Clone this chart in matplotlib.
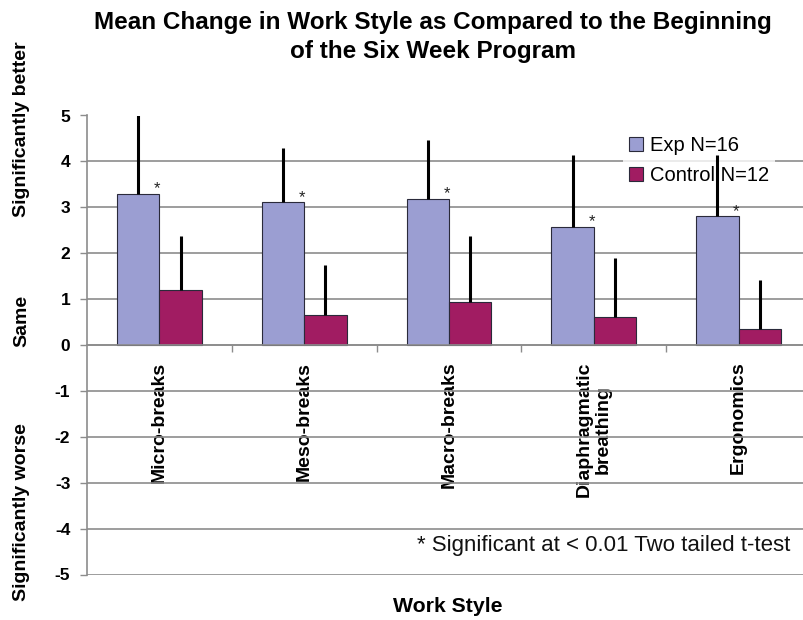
import matplotlib
matplotlib.use("Agg")
import matplotlib.pyplot as plt
from matplotlib.patches import Patch
import numpy as np

plt.rcParams['font.family'] = ['Liberation Sans', 'DejaVu Sans']

# Work-style categories and mean change scores
categories = ["Micro-breaks", "Meso-breaks", "Macro-breaks",
              "Diaphragmatic\nbreathing", "Ergonomics"]
exp_means = [3.30, 3.12, 3.19, 2.58, 2.80]
exp_sd = [1.80, 1.18, 1.28, 1.56, 1.34]
ctrl_means = [1.20, 0.66, 0.94, 0.62, 0.34]
ctrl_sd = [1.18, 1.09, 1.44, 1.28, 1.08]
significant = [True, True, True, True, True]
series_labels = ["Exp N=16", "Control N=12"]
yticks = [-5, -4, -3, -2, -1, 0, 1, 2, 3, 4, 5]

exp_color = "#9B9ED2"
ctrl_color = "#A11C62"
grid_color = "#8C8C8C"
edge_color = "#2a2a3a"

W, H = 804, 620
fig = plt.figure(figsize=(W / 100, H / 100), dpi=100)
ax = fig.add_axes([87 / W, 1 - 574.5 / H, (811 - 87) / W, 459 / H])

x = np.arange(len(categories))
bw = 0.293
ax.bar(x - bw / 2, exp_means, bw, color=exp_color, edgecolor=edge_color,
       linewidth=0.8, zorder=2)
ax.bar(x + bw / 2, ctrl_means, bw, color=ctrl_color, edgecolor=edge_color,
       linewidth=0.8, zorder=2)

# one-sided (upper) error bars
ax.errorbar(x - bw / 2, exp_means, yerr=[np.zeros(len(x)), exp_sd], fmt="none",
            ecolor="black", elinewidth=2.2, capsize=0, zorder=4)
ax.errorbar(x + bw / 2, ctrl_means, yerr=[np.zeros(len(x)), ctrl_sd], fmt="none",
            ecolor="black", elinewidth=2.2, capsize=0, zorder=4)

# significance markers
for xi, m, s in zip(x, exp_means, significant):
    if s:
        ax.text(xi - 0.015, m, "*", ha="center", va="baseline", fontsize=12,
                color="#222222", zorder=5)

ax.set_xlim(-0.5, len(categories) - 0.5)
ax.set_ylim(-5, 5)
ax.set_yticks(yticks)
ax.set_yticklabels([str(t) for t in yticks], fontsize=12.5, fontweight="bold")
ax.yaxis.grid(True, color=grid_color, linewidth=1.2)
ax.set_axisbelow(True)

for side in ("top", "right"):
    ax.spines[side].set_visible(False)
ax.spines["left"].set_color(grid_color)
ax.spines["left"].set_linewidth(1.2)
ax.spines["bottom"].set_position(("data", 0))
ax.spines["bottom"].set_color(grid_color)
ax.spines["bottom"].set_linewidth(1.2)

ax.tick_params(axis="y", length=5, width=1.0, color=grid_color, pad=7)
ax.set_xticks(np.arange(len(categories) - 1) + 0.5)
ax.set_xticklabels([])
ax.tick_params(axis="x", which="major", direction="out", length=5, width=1.0,
               color=grid_color)
ax.set_xticks(x, minor=True)
ax.set_xticklabels(categories, minor=True, rotation=90, fontsize=14,
                   fontweight="bold", va="top", ha="center",
                   multialignment="center")
ax.tick_params(axis="x", which="minor", length=0, pad=12)

leg = ax.legend(handles=[Patch(facecolor=exp_color, edgecolor=edge_color, linewidth=0.8),
                         Patch(facecolor=ctrl_color, edgecolor=edge_color, linewidth=0.8)],
                labels=series_labels, loc="upper left",
                bbox_to_anchor=(623 / W, 1 - 130 / H), bbox_transform=fig.transFigure,
                fontsize=14.5, frameon=True, fancybox=False, borderaxespad=0,
                borderpad=0.3, handlelength=0.7, handleheight=0.7,
                handletextpad=0.35, labelspacing=0.55)
leg.get_frame().set_facecolor("white")
leg.get_frame().set_edgecolor("none")
leg.set_zorder(3)

# footnote
ax.text(790 / W, 1 - 545 / H, "* Significant at < 0.01 Two tailed t-test",
        transform=fig.transFigure, ha="right", va="center", fontsize=16,
        color="#111111")

# title and axis labels
fig.text(433 / W, 1 - 37 / H,
         "Mean Change in Work Style as Compared to the Beginning\nof the Six Week Program",
         ha="center", va="center", fontsize=17.5, fontweight="bold",
         linespacing=1.38)
fig.text(448 / W, 1 - 607 / H, "Work Style", ha="center", va="center",
         fontsize=15.3, fontweight="bold")
for label, yc in [("Significantly better", 129), ("Same", 321),
                  ("Significantly worse", 512)]:
    fig.text(22 / W, 1 - yc / H, label, rotation=90, ha="center", va="center",
             fontsize=14, fontweight="bold")

fig.savefig("out.png", dpi=100)
